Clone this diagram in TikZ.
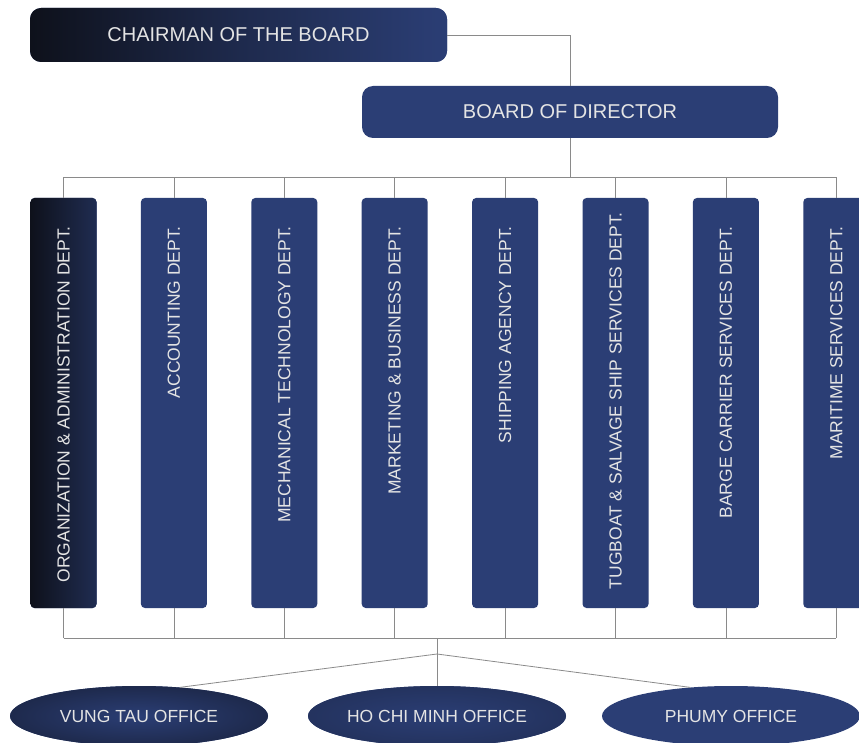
\documentclass[tikz,border=0pt]{standalone}
\usepackage{fontspec}
\setmainfont{Liberation Sans}
\usetikzlibrary{shapes.geometric, positioning, calc}
\definecolor{navy}{HTML}{2B3E75}
\definecolor{darknavy}{HTML}{0E111B}
\definecolor{linegray}{HTML}{8A8A8A}
\definecolor{labelwhite}{HTML}{E4E4E4}

\begin{document}
\begin{tikzpicture}[x=1pt, y=-1pt,
    head/.style={fill=navy, rounded corners=11pt, minimum width=417pt, minimum height=54pt, text=labelwhite, font=\fontsize{20}{24}\selectfont},
    dept/.style={fill=navy, rounded corners=4pt, minimum width=66pt, minimum height=410pt},
    deptlabel/.style={rotate=90, anchor=east, inner sep=0pt, text=labelwhite, font=\fontsize{17.5}{21}\selectfont},
    office/.style={ellipse, fill=navy, minimum width=258pt, minimum height=60pt, inner sep=0pt, text=labelwhite, font=\fontsize{17.5}{21}\selectfont},
    wire/.style={draw=linegray, line width=0.8pt}]

      \useasboundingbox (0,0) rectangle (859,743);
      \clip (0,0) rectangle (859,743);

      \node[head, left color=darknavy, right color=navy, middle color=navy!55!darknavy] (chair) at (238.5,35) {CHAIRMAN OF THE BOARD};
      \node[head, minimum width=416pt, minimum height=52pt] (board) at (570,112) {BOARD OF DIRECTOR};

      \node[dept, left color=darknavy, right color=navy!60!darknavy] (d1) at (63.5, 403) {};
      \node[deptlabel] (l1) at (63.5, 226) {ORGANIZATION \& ADMINISTRATION DEPT.};
      \foreach \i/\ytop/\txt in {2/226/{ACCOUNTING DEPT.},
          3/226/{MECHANICAL TECHNOLOGY DEPT.}, 4/226/{MARKETING \& BUSINESS DEPT.}, 5/226/{SHIPPING AGENCY DEPT.},
          6/212/{TUGBOAT \& SALVAGE SHIP SERVICES DEPT.}, 7/226/{BARGE CARRIER SERVICES DEPT.}, 8/226/{MARITIME SERVICES DEPT.}} {
        \node[dept] (d\i) at ({63.5+110.4*(\i-1)}, 403) {};
        \node[deptlabel] (l\i) at ({63.5+110.4*(\i-1)}, \ytop) {\txt};
      }

      \node[office, inner color=navy, outer color=navy!55!darknavy] (vungtau) at (139,716) {VUNG TAU OFFICE};
      \node[office, inner color=navy, outer color=navy!75!darknavy] (hcm) at (437,716) {HO CHI MINH OFFICE};
      \node[office] (phumy) at (731,716) {PHUMY OFFICE};

      \coordinate (busT) at (570,177);
      \coordinate (busB) at (437,638);
      \coordinate (hub) at (437,654);

      \draw[wire] (chair.east) -| (board.north);
      \draw[wire] (board.south) -- (busT);
      \draw[wire] (d1.north |- busT) -- (d8.north |- busT);
      \draw[wire] (d1.south |- busB) -- (d8.south |- busB);
      \foreach \i in {1,...,8} {
        \draw[wire] (d\i.north) -- (d\i.north |- busT);
        \draw[wire] (d\i.south) -- (d\i.south |- busB);
      }
      \draw[wire] (busB) -- (hcm.north);
      \draw[wire] (hub) -- (vungtau.35);
      \draw[wire] (hub) -- (phumy.145);

\end{tikzpicture}
\end{document}
